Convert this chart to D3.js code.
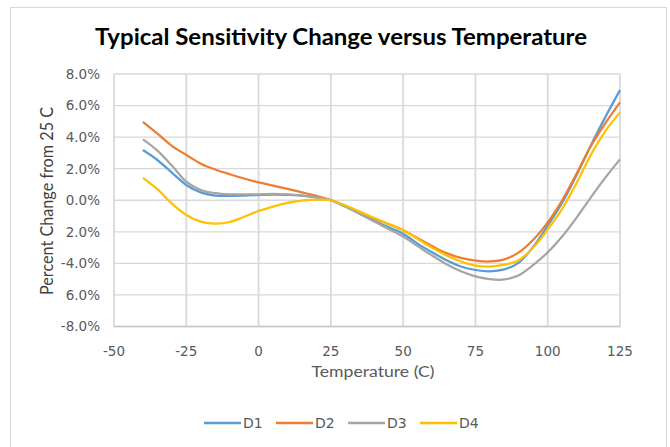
<!DOCTYPE html>
<html lang="en">
<head>
  <meta charset="UTF-8">
  <title>Typical Sensitivity Change versus Temperature</title>
  <script src="https://cdn.jsdelivr.net/npm/d3@7/dist/d3.min.js"></script>
  <style>
    body { margin: 0; background: #fff; }
    .grid line { stroke: #d9d9d9; }
    .tick-label { font-family: "DejaVu Sans", sans-serif; font-size: 13.5px; fill: #595959; }
    .axis-title { font-family: Lato, sans-serif; fill: #595959; }
    .legend-label { font-family: "DejaVu Sans", sans-serif; font-size: 14px; fill: #595959; }
  </style>
</head>
<body>

<svg width="670" height="447"></svg>

<script>
  // temperatures (C) at which the curves were read
  const temps = [-40, -35, -30, -25, -20, -15, -10, -5, 0, 5, 10, 15, 20, 25, 30, 35, 40, 45,
                 50, 55, 60, 65, 70, 75, 80, 85, 90, 95, 100, 105, 110, 115, 120, 125];

  // percent change from 25 C
  const d1 = [3.18, 2.55, 1.75, 0.97, 0.5, 0.3, 0.28, 0.3, 0.33, 0.35, 0.34, 0.3, 0.18, 0, -0.4, -0.85, -1.3, -1.72,
              -2.12, -2.75, -3.3, -3.8, -4.2, -4.42, -4.5, -4.38, -3.95, -2.95, -1.6, -0.15, 1.6, 3.5, 5.3, 6.98];
  const d2 = [4.97, 4.22, 3.45, 2.87, 2.32, 1.95, 1.65, 1.38, 1.13, 0.93, 0.72, 0.5, 0.28, 0, -0.35, -0.75, -1.15, -1.52,
              -1.9, -2.4, -2.9, -3.35, -3.65, -3.82, -3.88, -3.75, -3.3, -2.5, -1.4, 0.0, 1.7, 3.45, 4.9, 6.2];
  const d3v = [3.86, 3.15, 2.2, 1.18, 0.65, 0.45, 0.38, 0.38, 0.38, 0.4, 0.38, 0.3, 0.2, 0, -0.4, -0.85, -1.35, -1.82,
              -2.3, -2.9, -3.5, -4.05, -4.5, -4.82, -5.0, -5.02, -4.75, -4.1, -3.3, -2.3, -1.1, 0.2, 1.45, 2.59];
  const d4 = [1.42, 0.7, -0.2, -0.93, -1.35, -1.48, -1.38, -1.05, -0.68, -0.4, -0.17, -0.02, 0.04, 0, -0.33, -0.72, -1.12, -1.5,
              -1.88, -2.45, -3.0, -3.5, -3.88, -4.14, -4.2, -4.08, -3.8, -3.0, -1.85, -0.55, 1.1, 2.9, 4.4, 5.57];

  const seriesNames = ["D1", "D2", "D3", "D4"];
  const seriesValues = [d1, d2, d3v, d4];
  const seriesColors = ["#5b9bd5", "#ed7d31", "#a5a5a5", "#ffc000"];

  const xTicks = [-50, -25, 0, 25, 50, 75, 100, 125];
  const yTicks = [8, 6, 4, 2, 0, -2, -4, -6, -8];
  const yTickLabels = ["8.0%", "6.0%", "4.0%", "2.0%", "0.0%", "2.0%", "-4.0%", "6.0%", "-8.0%"];

  const svg = d3.select("svg");

  // chart area border
  svg.append("rect")
    .attr("x", 10.5).attr("y", 7.5)
    .attr("width", 656).attr("height", 470)
    .attr("fill", "none")
    .attr("stroke", "#d9d9d9");

  const x = d3.scaleLinear().domain([-50, 125]).range([114, 620]);
  const y = d3.scaleLinear().domain([-8, 8]).range([326.5, 74]);

  // gridlines
  const grid = svg.append("g").attr("class", "grid");
  grid.selectAll(".h")
    .data(yTicks)
    .enter().append("line")
    .attr("x1", x(-50)).attr("x2", x(125))
    .attr("y1", d => y(d)).attr("y2", d => y(d))
    .style("stroke-width", 1.3);
  grid.selectAll(".v")
    .data(xTicks)
    .enter().append("line")
    .attr("x1", d => x(d)).attr("x2", d => x(d))
    .attr("y1", y(8)).attr("y2", y(-8))
    .style("stroke-width", 1.8);
  svg.append("line")
    .attr("x1", x(-50)).attr("x2", x(125))
    .attr("y1", y(-8)).attr("y2", y(-8))
    .attr("stroke", "#c8c8c8").attr("stroke-width", 1.5);

  // tick labels
  svg.selectAll(".ylab")
    .data(yTicks)
    .enter().append("text")
    .attr("class", "tick-label")
    .attr("x", 100)
    .attr("y", d => y(d))
    .attr("dy", "0.36em")
    .attr("text-anchor", "end")
    .text((d, i) => yTickLabels[i]);

  svg.selectAll(".xlab")
    .data(xTicks)
    .enter().append("text")
    .attr("class", "tick-label")
    .attr("x", d => x(d))
    .attr("y", 355.5)
    .attr("text-anchor", "middle")
    .text(d => d);

  // titles
  svg.append("text")
    .attr("x", 341).attr("y", 45)
    .attr("text-anchor", "middle")
    .attr("textLength", 492).attr("lengthAdjust", "spacingAndGlyphs")
    .style("font-family", "Lato, sans-serif")
    .style("font-weight", "bold")
    .style("font-size", "22px")
    .style("fill", "#000")
    .text("Typical Sensitivity Change versus Temperature");

  svg.append("text")
    .attr("class", "axis-title")
    .attr("x", 373).attr("y", 377)
    .attr("text-anchor", "middle")
    .attr("textLength", 123).attr("lengthAdjust", "spacingAndGlyphs")
    .style("font-size", "15.5px")
    .text("Temperature (C)");

  svg.append("text")
    .attr("class", "axis-title")
    .attr("transform", "translate(53,201) rotate(-90)")
    .attr("text-anchor", "middle")
    .attr("textLength", 188).attr("lengthAdjust", "spacingAndGlyphs")
    .style("font-size", "17px")
    .style("fill", "#404040")
    .text("Percent Change from 25 C");

  // series lines
  const line = d3.line()
    .x(d => x(d[0]))
    .y(d => y(d[1]))
    .curve(d3.curveCatmullRom.alpha(0.5));

  seriesValues.forEach((vals, i) => {
    svg.append("path")
      .datum(temps.map((t, j) => [t, vals[j]]))
      .attr("fill", "none")
      .attr("stroke", seriesColors[i])
      .attr("stroke-width", 2.25)
      .attr("d", line);
  });

  // legend
  const legendX = [204, 276, 348, 420];
  const legend = svg.selectAll(".legend")
    .data(seriesNames)
    .enter().append("g")
    .attr("transform", (d, i) => `translate(${legendX[i]},423)`);
  legend.append("line")
    .attr("x1", 0).attr("x2", 37)
    .attr("stroke", (d, i) => seriesColors[i])
    .attr("stroke-width", 2.5);
  legend.append("text")
    .attr("class", "legend-label")
    .attr("x", 39)
    .attr("dy", "0.36em")
    .text(d => d);
</script>

</body>
</html>
